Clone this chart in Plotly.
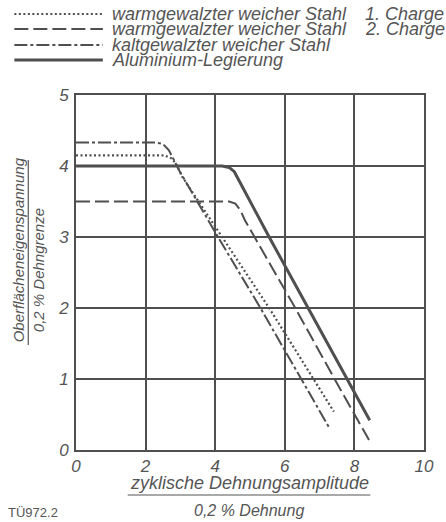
import plotly.graph_objects as go

# ---- data ----
warm1_x = [0, 2.55, 2.77, 2.91, 3.05, 4.2, 5.55, 7.41]
warm1_y = [4.15, 4.15, 4.10, 4.00, 3.85, 3.0, 2.0, 0.54]

warm2_x = [0, 4.4, 4.58, 4.72, 4.85, 6.3, 7.43, 8.42]
warm2_y = [3.5, 3.5, 3.47, 3.38, 3.24, 2.0, 1.0, 0.14]

kalt_x = [0, 2.3, 2.5, 2.67, 2.82, 2.95, 4.08, 5.3, 7.27]
kalt_y = [4.33, 4.33, 4.31, 4.22, 4.08, 3.95, 3.0, 2.0, 0.32]

alu_x = [0, 4.2, 4.4, 4.55, 4.68, 5.55, 6.67, 7.79, 8.44]
alu_y = [4.0, 4.0, 3.98, 3.92, 3.80, 3.0, 2.0, 1.0, 0.42]

series_names = ["warmgewalzter weicher Stahl", "warmgewalzter weicher Stahl",
                "kaltgewalzter weicher Stahl", "Aluminium-Legierung"]
charge_labels = ["1. Charge", "2. Charge"]
x_ticks = [0, 2, 4, 6, 8, 10]
y_ticks = [0, 1, 2, 3, 4, 5]

INK = "#4f4f4f"
TXT = "#555555"
FONT = "Liberation Sans, Arial, sans-serif"

W, H = 446, 522
L, R, T, B = 76, 20, 95, 72
PW, PH = W - L - R, H - T - B


def px(x):
    return (x - L) / PW


def py(y):
    return (H - B - y) / PH


dashes = ["2px,2.5px", "14px,5px", "13px,3px,3px,3px", "solid"]
widths = [2.2, 2, 2, 3]

fig = go.Figure()
for (xs, ys), name, d, w in zip([(warm1_x, warm1_y), (warm2_x, warm2_y),
                                 (kalt_x, kalt_y), (alu_x, alu_y)],
                                series_names, dashes, widths):
    fig.add_trace(go.Scatter(x=xs, y=ys, mode="lines", name=name,
                             line=dict(color=INK, width=w, dash=d),
                             showlegend=False, hoverinfo="skip"))

shapes = []
annotations = []

# manual legend
rows = [14, 29, 45, 60]
for i, (name, d, w) in enumerate(zip(series_names, dashes, widths)):
    shapes.append(dict(type="line", xref="paper", yref="paper",
                       x0=px(14), x1=px(103), y0=py(rows[i]), y1=py(rows[i]),
                       line=dict(color=INK, width=w, dash=d)))
    annotations.append(dict(xref="paper", yref="paper", x=px(110), y=py(rows[i]),
                            xanchor="left", yanchor="middle", showarrow=False,
                            text=name,
                            font=dict(family=FONT, size=18, color=TXT, style="italic")))
for i, c in enumerate(charge_labels):
    annotations.append(dict(xref="paper", yref="paper", x=px(365), y=py(rows[i]),
                            xanchor="left", yanchor="middle", showarrow=False,
                            text=c,
                            font=dict(family=FONT, size=18, color=TXT, style="italic")))

# x-axis title as fraction
annotations.append(dict(xref="paper", yref="paper", x=px(250), y=py(483),
                        xanchor="center", yanchor="middle", showarrow=False,
                        text="zyklische Dehnungsamplitude",
                        font=dict(family=FONT, size=18, color=TXT, style="italic")))
shapes.append(dict(type="line", xref="paper", yref="paper",
                   x0=px(128), x1=px(372), y0=py(495), y1=py(495),
                   line=dict(color=TXT, width=1.2)))
annotations.append(dict(xref="paper", yref="paper", x=px(250), y=py(510),
                        xanchor="center", yanchor="middle", showarrow=False,
                        text="0,2 % Dehnung",
                        font=dict(family=FONT, size=16, color=TXT, style="italic")))

# y-axis title as fraction
annotations.append(dict(xref="paper", yref="paper", x=px(18), y=py(250),
                        xanchor="center", yanchor="middle", showarrow=False,
                        textangle=-90, text="Oberflächeneigenspannung",
                        font=dict(family=FONT, size=15, color=TXT, style="italic")))
shapes.append(dict(type="line", xref="paper", yref="paper",
                   x0=px(28), x1=px(28), y0=py(160), y1=py(345),
                   line=dict(color=TXT, width=1.2)))
annotations.append(dict(xref="paper", yref="paper", x=px(38), y=py(270),
                        xanchor="center", yanchor="middle", showarrow=False,
                        textangle=-90, text="0,2 % Dehngrenze",
                        font=dict(family=FONT, size=15, color=TXT, style="italic")))

# figure code
annotations.append(dict(xref="paper", yref="paper", x=px(6), y=py(512),
                        xanchor="left", yanchor="middle", showarrow=False,
                        text="TÜ972.2",
                        font=dict(family=FONT, size=13, color=TXT)))

axis_common = dict(showgrid=True, gridcolor=INK, gridwidth=2,
                   showline=True, linecolor=INK, linewidth=2, mirror=True,
                   zeroline=False, ticks="",
                   tickfont=dict(family=FONT, size=17, color=TXT, style="italic"))

fig.update_layout(
    width=W, height=H,
    margin=dict(l=L, r=R, t=T, b=B, pad=0),
    paper_bgcolor="white", plot_bgcolor="white",
    xaxis=dict(range=[0, 10], tickvals=x_ticks, **axis_common),
    yaxis=dict(range=[0, 5], tickvals=y_ticks, ticklabelstandoff=2, **axis_common),
    shapes=shapes, annotations=annotations,
    showlegend=False, hovermode=False,
)

fig.write_html("out.html", config={"displayModeBar": False, "staticPlot": True},
               post_script="document.body.style.margin='0';document.body.style.overflow='hidden';")
